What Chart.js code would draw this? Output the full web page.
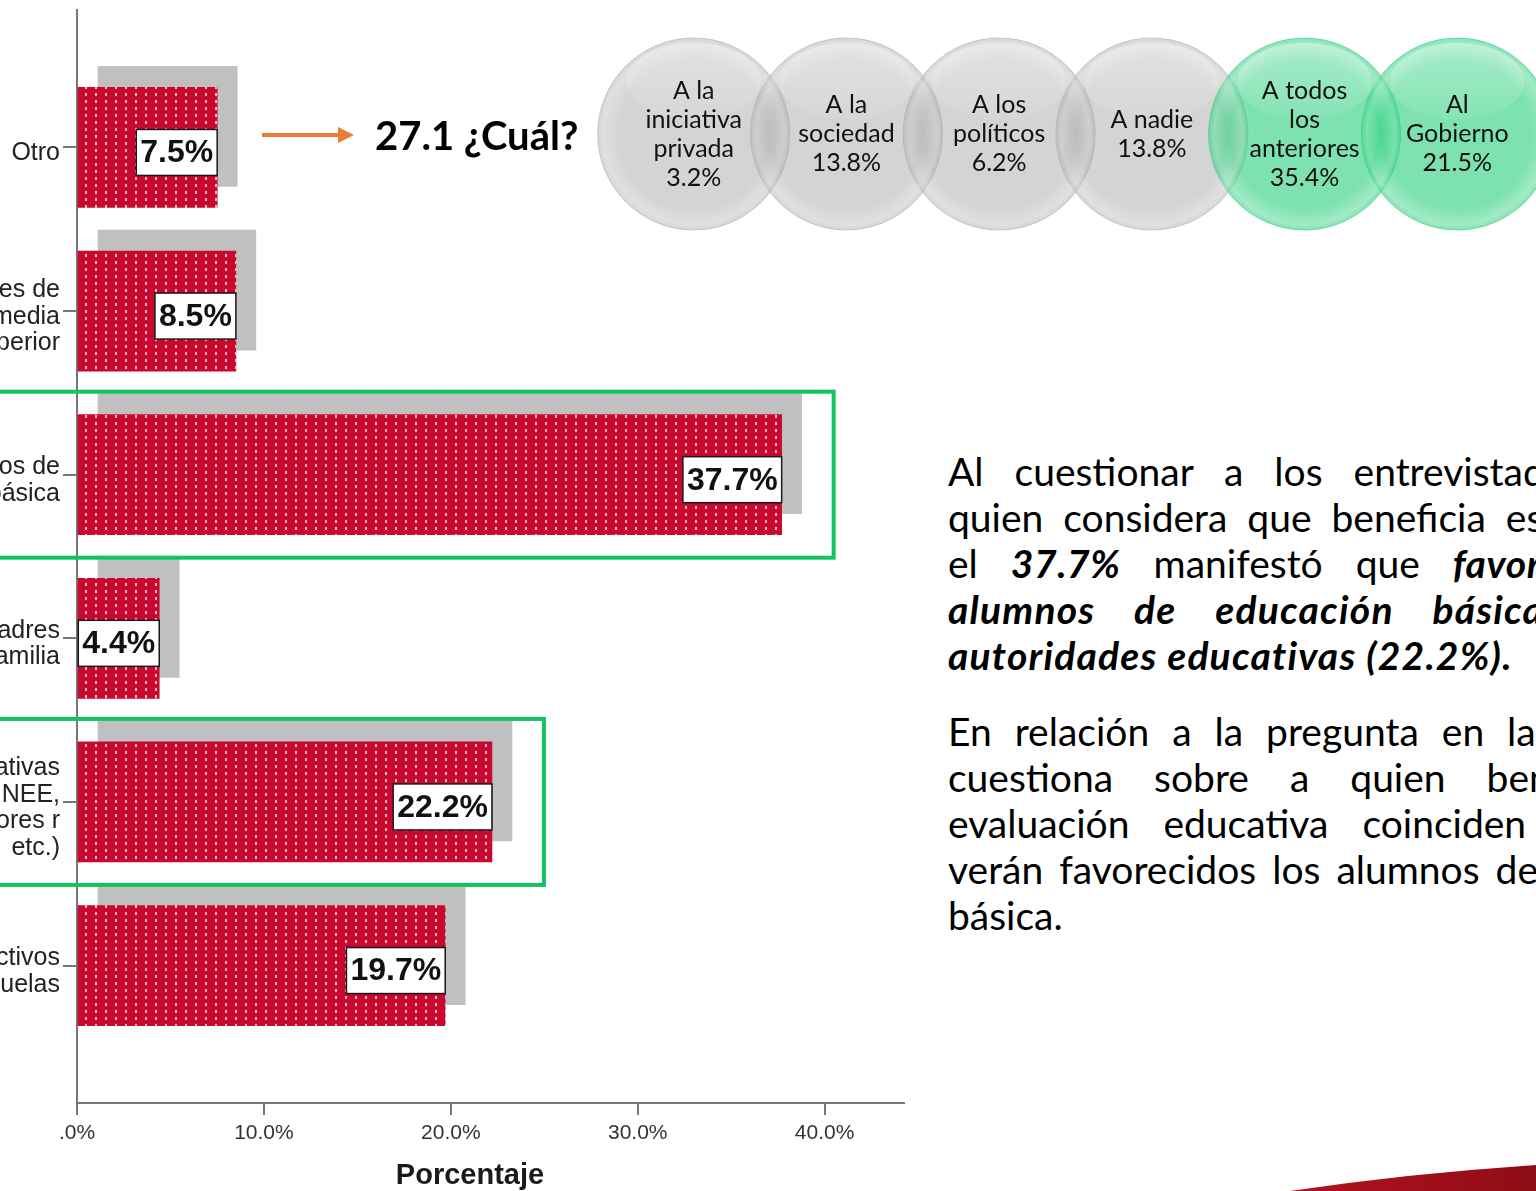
<!DOCTYPE html>
<html lang="es">
<head>
<meta charset="utf-8">
<title>Beneficiarios de la evaluación</title>
<script src="https://cdn.jsdelivr.net/npm/chart.js@4.4.1/dist/chart.umd.min.js"></script>
<style>
  html, body { margin: 0; padding: 0; background: #fff; }
  body { width: 1536px; height: 1191px; position: relative; overflow: hidden; font-family: Lato, "Noto Sans", sans-serif; color: #000; }
  #bars { position: absolute; left: -200px; top: 0; }
  /* the bubble chart pads its area by the bubble radius (96px) on every side */
  #bubbles { position: absolute; left: 464px; top: -96px; }
  #arrow { position: absolute; left: 258px; top: 120px; }
  .pregunta { position: absolute; left: 375px; top: 111px; font-size: 40px; font-weight: 700; line-height: 48px; white-space: nowrap; }
  .texto { position: absolute; left: 948px; font-size: 39px; line-height: 46px; white-space: nowrap; }
  .texto span { display: block; }
  .texto b { font-weight: 700; font-style: italic; letter-spacing: 0.6px; }
  .bi { font-weight: 700; font-style: italic; letter-spacing: 1.2px; }
  #p1 { top: 448px; }
  #p2 { top: 708px; }
  #franja { position: absolute; left: 1200px; top: 1140px; }
</style>
</head>
<body>
<canvas id="bars" width="1105" height="1191"></canvas>
<canvas id="bubbles" width="1252" height="460"></canvas>

<svg id="arrow" width="100" height="30" viewBox="0 0 100 30">
  <line x1="4" y1="15" x2="82" y2="15" stroke="#ED7D31" stroke-width="4"/>
  <polygon points="80,7 96,15 80,23" fill="#ED7D31"/>
</svg>
<div class="pregunta">27.1 ¿Cuál?</div>

<!-- justified paragraph, one line per row -->
<div class="texto" id="p1">
  <span style="word-spacing:21px">Al cuestionar a los entrevistados sobre</span>
  <span style="word-spacing:10px">quien considera que beneficia esta evaluación</span>
  <span style="word-spacing:23px">el <b>37.7%</b> manifestó que <b>favorece a los</b></span>
  <span class="bi" style="word-spacing:29px">alumnos de educación básica y las</span>
  <span class="bi">autoridades educativas (22.2%).</span>
</div>
<div class="texto" id="p2">
  <span style="word-spacing:13px">En relación a la pregunta en la que se les</span>
  <span style="word-spacing:31px">cuestiona sobre a quien beneficia la</span>
  <span style="word-spacing:24px">evaluación educativa coinciden en que se</span>
  <span style="word-spacing:6px">verán favorecidos los alumnos de educación</span>
  <span>básica.</span>
</div>

<svg id="franja" width="336" height="51" viewBox="0 0 336 51">
  <defs>
    <linearGradient id="rojo" x1="0" y1="0" x2="1" y2="0">
      <stop offset="0" stop-color="#b3121f"/>
      <stop offset="1" stop-color="#8e0d16"/>
    </linearGradient>
  </defs>
  <path d="M90,51 Q210,33 336,25 L336,51 Z" fill="url(#rojo)"/>
</svg>

<script>
// ---- Respuestas: ¿A quién beneficia la evaluación? ----
const categorias = [
  'Otro',
  ['Docentes de', 'educación media', 'superior'],
  ['Alumnos de', 'educación básica'],
  ['Padres', 'de familia'],
  ['Autoridades educativas', '(USAER, CAM, NEE,', 'supervisores r', 'etc.)'],
  ['Directivos', 'de escuelas']
];
const porcentajes = [7.5, 8.5, 37.7, 4.4, 22.2, 19.7];
const destacados = [2, 4];
const ticksX = [0, 10, 20, 30, 40];

// ---- 27.1 ¿Cuál? ----
const opciones = [
  ['A la', 'iniciativa', 'privada'],
  ['A la', 'sociedad'],
  ['A los', 'políticos'],
  ['A nadie'],
  ['A todos', 'los', 'anteriores'],
  ['Al', 'Gobierno']
];
const porcentajesCual = [3.2, 13.8, 6.2, 13.8, 35.4, 21.5];
const opcionesDestacadas = [4, 5];

const FUENTE = '"Liberation Sans", Arial, sans-serif';

// red fill with columns of small light dashes
function tramaPuntos() {
  const c = document.createElement('canvas');
  c.width = 10; c.height = 7;
  const g = c.getContext('2d');
  g.fillStyle = '#c8082f';
  g.fillRect(0, 0, 10, 7);
  g.fillStyle = 'rgba(255,200,212,0.9)';
  g.fillRect(5, 2, 2, 3);
  return g.createPattern(c, 'repeat');
}

// grey drop shadow behind the bars (up and to the right)
const sombraBarras = {
  id: 'sombraBarras',
  beforeDatasetsDraw(chart) {
    const ctx = chart.ctx;
    ctx.save();
    ctx.shadowColor = '#c0c0c0';
    ctx.shadowOffsetX = 20;
    ctx.shadowOffsetY = -21;
    ctx.shadowBlur = 0;
  },
  afterDatasetsDraw(chart) {
    chart.ctx.restore();
  }
};

// value boxes, highlight frames and the axis title
const anotaciones = {
  id: 'anotaciones',
  afterDatasetsDraw(chart) {
    const ctx = chart.ctx;
    const meta = chart.getDatasetMeta(0);
    ctx.save();
    meta.data.forEach((bar, i) => {
      const p = bar.getProps(['x', 'y'], true);
      const txt = porcentajes[i].toFixed(1) + '%';
      ctx.font = 'bold 32px ' + FUENTE;
      const w = ctx.measureText(txt).width + 8;
      const h = 46;
      const cy = p.y + 5;
      ctx.fillStyle = '#fff';
      ctx.fillRect(p.x - w, cy - h / 2, w, h);
      ctx.strokeStyle = '#1a1a1a';
      ctx.lineWidth = 1.5;
      ctx.strokeRect(p.x - w, cy - h / 2, w, h);
      ctx.fillStyle = '#111';
      ctx.textAlign = 'center';
      ctx.textBaseline = 'middle';
      ctx.fillText(txt, p.x - w / 2, cy + 1);
    });
    destacados.forEach(i => {
      const p = meta.data[i].getProps(['x', 'y', 'height'], true);
      const top = p.y - p.height / 2 - 23;
      const bottom = p.y + p.height / 2 + 23;
      ctx.strokeStyle = '#14c263';
      ctx.lineWidth = 4;
      ctx.strokeRect(-10, top, p.x + 52 + 10, bottom - top);
    });
    const area = chart.chartArea;
    ctx.font = 'bold 29px ' + FUENTE;
    ctx.fillStyle = '#1a1a1a';
    ctx.textAlign = 'center';
    ctx.textBaseline = 'middle';
    ctx.fillText('Porcentaje', (area.left + area.right) / 2 - 21, area.bottom + 73);
    ctx.restore();
  }
};

new Chart(document.getElementById('bars'), {
  type: 'bar',
  data: {
    datasets: [{
      data: porcentajes.map((v, i) => ({ x: v, y: i })),
      backgroundColor: tramaPuntos(),
      borderWidth: 0,
      barThickness: 120
    }]
  },
  options: {
    indexAxis: 'y',
    responsive: false,
    animation: false,
    events: [],
    devicePixelRatio: 1,
    layout: { padding: { top: 10, left: 0, right: 0, bottom: 0 } },
    plugins: { legend: { display: false }, tooltip: { enabled: false } },
    scales: {
      x: {
        type: 'linear',
        position: 'bottom',
        offset: false,
        min: 0,
        max: 44.3,
        afterBuildTicks: s => { s.ticks = ticksX.map(v => ({ value: v })); },
        afterFit: s => { s.height = 88; s.paddingLeft = 0; s.paddingRight = 0; },
        ticks: {
          autoSkip: false,
          maxRotation: 0,
          padding: 6,
          color: '#333',
          font: { family: FUENTE, size: 21 },
          callback: v => (v === 0 ? '.0%' : v.toFixed(1) + '%')
        },
        grid: { offset: false, drawOnChartArea: false, drawTicks: true, tickLength: 12, color: '#777', lineWidth: 2 },
        border: { display: true, color: '#777', width: 2 }
      },
      y: {
        type: 'linear',
        reverse: true,
        offset: false,
        min: -0.84,
        max: 5.84,
        afterBuildTicks: s => { s.ticks = categorias.map((c, i) => ({ value: i })); },
        afterFit: s => { s.width = 277; s.paddingTop = 0; s.paddingBottom = 0; },
        ticks: {
          autoSkip: false,
          padding: 3,
          labelOffset: 6,
          color: '#222',
          font: { family: FUENTE, size: 25, lineHeight: 1.06 },
          callback: v => categorias[v]
        },
        grid: { offset: false, drawOnChartArea: false, drawTicks: true, tickLength: 14, color: '#777', lineWidth: 2 },
        border: { display: true, color: '#777', width: 2 }
      }
    }
  },
  plugins: [sombraBarras, anotaciones]
});

// glassy rim and labels for the answer bubbles
const burbujasTexto = {
  id: 'burbujasTexto',
  afterDatasetsDraw(chart) {
    const ctx = chart.ctx;
    const meta = chart.getDatasetMeta(0);
    ctx.save();
    meta.data.forEach((pt) => {
      const { x, y } = pt.getProps(['x', 'y'], true);
      const r = pt.options.radius;
      const g = ctx.createRadialGradient(x, y, r * 0.78, x, y, r);
      g.addColorStop(0, 'rgba(255,255,255,0)');
      g.addColorStop(0.75, 'rgba(255,255,255,0.28)');
      g.addColorStop(1, 'rgba(255,255,255,0.05)');
      ctx.beginPath();
      ctx.arc(x, y, r, 0, Math.PI * 2);
      ctx.fillStyle = g;
      ctx.fill();
      const h = ctx.createLinearGradient(x, y - r, x, y);
      h.addColorStop(0, 'rgba(255,255,255,0.35)');
      h.addColorStop(1, 'rgba(255,255,255,0)');
      ctx.beginPath();
      ctx.ellipse(x, y - r * 0.55, r * 0.7, r * 0.4, 0, 0, Math.PI * 2);
      ctx.fillStyle = h;
      ctx.fill();
    });
    meta.data.forEach((pt, i) => {
      const { x, y } = pt.getProps(['x', 'y'], true);
      const lineas = opciones[i].concat([porcentajesCual[i].toFixed(1) + '%']);
      const lh = 29;
      ctx.font = '25px Lato, "Noto Sans", sans-serif';
      ctx.fillStyle = '#111';
      ctx.textAlign = 'center';
      ctx.textBaseline = 'middle';
      const y0 = y - (lineas.length - 1) * lh / 2;
      lineas.forEach((t, k) => ctx.fillText(t, x, y0 + k * lh));
    });
    ctx.restore();
  }
};

new Chart(document.getElementById('bubbles'), {
  type: 'bubble',
  data: {
    datasets: [{
      data: porcentajesCual.map((v, i) => ({ x: i, y: 0 })),
      radius: 96,
      backgroundColor: porcentajesCual.map((v, i) =>
        opcionesDestacadas.includes(i) ? 'rgba(29,204,116,0.57)' : 'rgba(157,157,157,0.44)'),
      borderColor: porcentajesCual.map((v, i) =>
        opcionesDestacadas.includes(i) ? 'rgba(60,200,130,0.6)' : 'rgba(170,170,170,0.6)'),
      borderWidth: 1,
      clip: false
    }]
  },
  options: {
    responsive: false,
    animation: false,
    events: [],
    devicePixelRatio: 1,
    layout: { padding: 0 },
    plugins: { legend: { display: false }, tooltip: { enabled: false } },
    scales: {
      x: { type: 'linear', display: false, offset: false, bounds: 'data', min: -0.869, max: 6.059 },
      y: { type: 'linear', display: false, offset: false, bounds: 'data', min: -1, max: 1 }
    }
  },
  plugins: [burbujasTexto]
});
</script>
</body>
</html>
